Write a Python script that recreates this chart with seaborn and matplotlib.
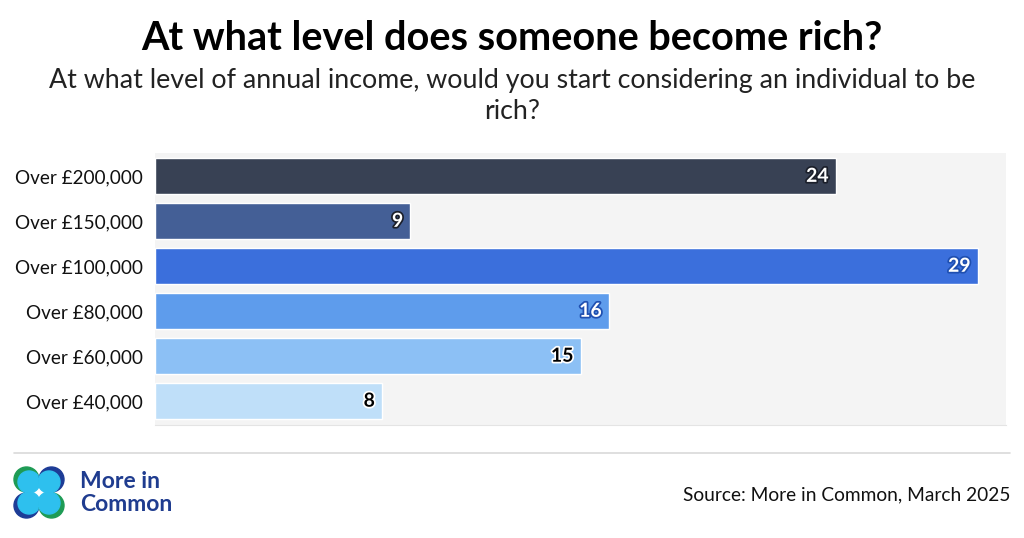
import matplotlib
matplotlib.use("Agg")
import matplotlib.pyplot as plt
import matplotlib.patheffects as pe
from matplotlib.patches import Ellipse
import pandas as pd
import seaborn as sbn

# data
categories = ["Over £200,000", "Over £150,000", "Over £100,000",
              "Over £80,000", "Over £60,000", "Over £40,000"]
values = [24, 9, 29, 16, 15, 8]
bar_colors = ["#384154", "#445f96", "#3b6fdc", "#5e9cec", "#8cc0f5", "#bfdff9"]
label_colors = ["white", "white", "white", "white", "black", "black"]

df = pd.DataFrame({"level": categories, "share": values})

sbn.set_style("white")
plt.rcParams["font.family"] = ["Lato", "DejaVu Sans"]

W, H = 1024, 538
fig = plt.figure(figsize=(10.24, 5.38), dpi=100)
ax = fig.add_axes([155 / W, 1 - 425 / H, 851 / W, 272 / H])
ax.set_facecolor("#f4f4f4")

sbn.barplot(data=df, x="share", y="level", hue="level", palette=bar_colors,
            orient="h", width=0.8, legend=False, ax=ax, saturation=1)

for bar, val, col in zip(ax.patches, values, label_colors):
    stroke = "#1b1f2a" if col == "white" else "white"
    if col == "white" and val in (29, 16):
        stroke = "#1f4fb0"
    ax.text(bar.get_width() - 0.25, bar.get_y() + bar.get_height() / 2, str(val),
            ha="right", va="center", fontsize=14, fontweight="bold", color=col,
            path_effects=[pe.withStroke(linewidth=2.5, foreground=stroke)])

ax.set_xlim(0, 30)
ax.set_ylim(5.53, -0.52)
ax.set_xticks([])
ax.set_xlabel("")
ax.set_ylabel("")
ax.tick_params(axis="y", length=5, color="#dddddd", labelsize=13.6, labelcolor="#111111", pad=4)
for s in ["top", "right", "left"]:
    ax.spines[s].set_visible(False)
ax.spines["bottom"].set_color("#e4e4e4")

fig.text(0.5, 1 - 38 / H, "At what level does someone become rich?", ha="center", va="center",
         fontsize=28.5, fontweight="bold", color="#000000")
fig.text(0.5, 1 - 96 / H, "At what level of annual income, would you start considering an individual to be\nrich?",
         ha="center", va="center", fontsize=19.3, color="#222222", linespacing=1.3)

# footer rule
fig.add_artist(plt.Line2D([14 / W, 1010 / W], [1 - 453 / H, 1 - 453 / H],
                          color="#d9d9d9", lw=1.2))

fig.text(1010 / W, 1 - 495 / H, "Source: More in Common, March 2025", ha="right", va="center",
         fontsize=13.8, color="#111111")

# logo
r = 12.5
for cx, cy, outer, dx, dy in [(26.5, 479.5, "#1e9b55", 2.5, 2.5), (51.5, 479.5, "#1d3c96", -2.5, 2.5),
                              (26.5, 505.5, "#1d3c96", 2.5, -2.5), (51.5, 505.5, "#1e9b55", -2.5, -2.5)]:
    fig.add_artist(Ellipse((cx / W, 1 - cy / H), 2 * r / W, 2 * r / H,
                           transform=fig.transFigure, color=outer))
    fig.add_artist(Ellipse(((cx + dx) / W, 1 - (cy + dy) / H), 2 * (r - 1.5) / W, 2 * (r - 1.5) / H,
                           transform=fig.transFigure, color="#2ec0ee"))
fig.text(80 / W, 1 - 482 / H, "More in", ha="left", va="center", fontsize=16.5,
         fontweight="bold", color="#1f3c8f")
fig.text(80 / W, 1 - 504.5 / H, "Common", ha="left", va="center", fontsize=16.5,
         fontweight="bold", color="#1f3c8f")

fig.savefig("out.png", dpi=100)
